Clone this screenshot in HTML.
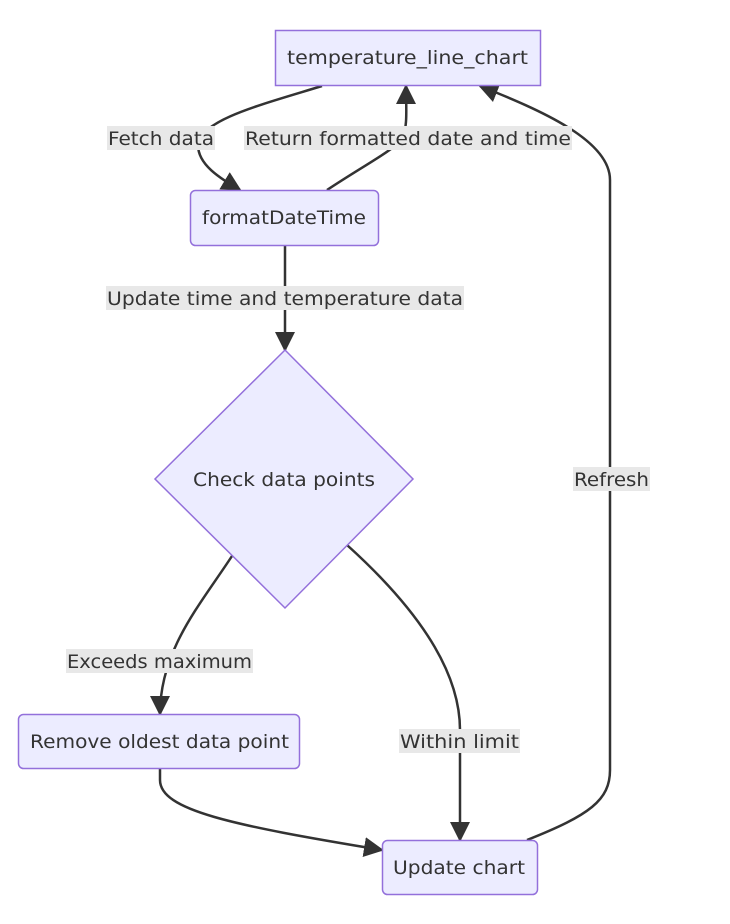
<!DOCTYPE html>
<html><head><style>
html,body{margin:0;padding:0;background:#fff;}
svg{display:block;}
text{font-family:"DejaVu Sans","Liberation Sans",sans-serif;font-size:19px;fill:#333;}
.n{fill:#ECECFF;stroke:#9370DB;stroke-width:1.5;}
.e{fill:none;stroke:#333;stroke-width:2.5;}
.lb{fill:#e8e8e8;}
</style></head><body>
<svg width="730" height="924" viewBox="0 0 730 924">
<defs>
<marker id="b" viewBox="0 0 10 10" refX="9" refY="5" markerWidth="20" markerHeight="20" markerUnits="userSpaceOnUse" orient="auto"><path d="M0,0L10,5L0,10z" fill="#333"/></marker></defs>
<path class="e" d="M322,86 C260,105 200,120 198,145 C198,165 220,178 240,190" marker-end="url(#b)"/>
<path class="e" d="M327,190 C360,168 390,152 402,140 C408,125 406,110 406,86" marker-end="url(#b)"/>
<path class="e" d="M285,246 L285,350" marker-end="url(#b)"/>
<path class="e" d="M232,556 C200,605 160,650 160,714" marker-end="url(#b)"/>
<path class="e" d="M347,545 C430,620 460,680 460,730 L460,840" marker-end="url(#b)"/>
<path class="e" d="M160,769 L160,780 C160,810 230,825 382,850" marker-end="url(#b)"/>
<path class="e" d="M527,840 C590,815 610,800 610,770 L610,180 C610,140 540,110 480,86" marker-end="url(#b)"/>
<rect class="n" x="275.5" y="30.5" width="265" height="55"/>
<text x="287" y="64" textLength="241" lengthAdjust="spacingAndGlyphs">temperature_line_chart</text>
<rect class="n" x="190.5" y="190.5" width="188" height="55" rx="5"/>
<text x="202" y="224" textLength="164" lengthAdjust="spacingAndGlyphs">formatDateTime</text>
<polygon class="n" points="285,350 413,479 285,608 155,479"/>
<text x="193" y="486" textLength="182" lengthAdjust="spacingAndGlyphs">Check data points</text>
<rect class="n" x="18.5" y="714.5" width="281" height="54" rx="5"/>
<text x="30" y="748" textLength="259" lengthAdjust="spacingAndGlyphs">Remove oldest data point</text>
<rect class="n" x="382.5" y="840.5" width="155" height="54" rx="5"/>
<text x="393" y="874" textLength="132" lengthAdjust="spacingAndGlyphs">Update chart</text>
<rect class="lb" x="107" y="126" width="108" height="24"/>
<text x="108" y="145" textLength="106" lengthAdjust="spacingAndGlyphs">Fetch data</text>
<rect class="lb" x="244" y="126" width="328" height="24"/>
<text x="245" y="145" textLength="326" lengthAdjust="spacingAndGlyphs">Return formatted date and time</text>
<rect class="lb" x="106" y="286" width="358" height="24"/>
<text x="107" y="305" textLength="356" lengthAdjust="spacingAndGlyphs">Update time and temperature data</text>
<rect class="lb" x="66" y="649" width="187" height="24"/>
<text x="67" y="668" textLength="185" lengthAdjust="spacingAndGlyphs">Exceeds maximum</text>
<rect class="lb" x="399" y="729" width="121" height="24"/>
<text x="400" y="748" textLength="119" lengthAdjust="spacingAndGlyphs">Within limit</text>
<rect class="lb" x="573" y="467" width="77" height="24"/>
<text x="574" y="486" textLength="75" lengthAdjust="spacingAndGlyphs">Refresh</text>
</svg>
</body></html>
